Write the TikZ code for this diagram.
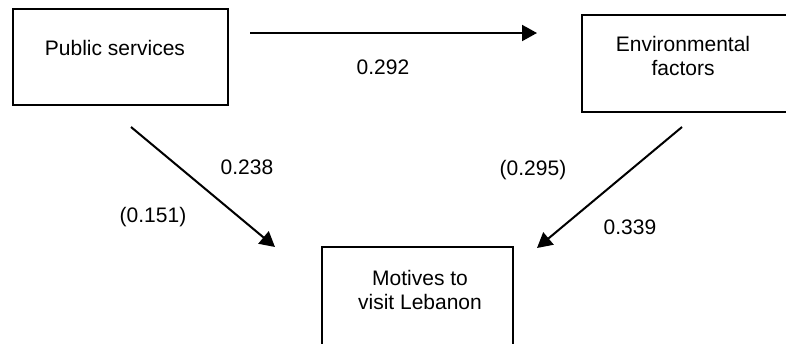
\documentclass[tikz,border=0pt]{standalone}
\usepackage{fontspec}
\setmainfont{Liberation Sans}
\usetikzlibrary{arrows.meta}

\begin{document}
\begin{tikzpicture}[x=0.5pt,y=-0.5pt,
        box/.style={draw,line width=1pt,inner sep=0pt},
        txt/.style={align=center,inner sep=0pt,font=\fontsize{10.5}{12}\selectfont},
        link/.style={line width=1pt,-{Triangle[length=7.5pt,width=8pt]}}]
        \useasboundingbox (0,0) rectangle (786,343);

        \node[box,minimum width=107.5pt,minimum height=48pt] (PS) at (120,57) {};
        \node[box,minimum width=104pt,minimum height=48.5pt] (EF) at (686,63.5) {};
        \node[box,minimum width=95.5pt,minimum height=49pt] (MV) at (417.5,296) {};

        \node[txt] (PStxt) at (115,48) {Public services};
        \node[txt] (EFtxt) at (683,56) {Environmental\\factors};
        \node[txt] (MVtxt) at (420,290) {Motives to\\visit Lebanon};

        \coordinate (PSright) at (250,33);
        \coordinate (EFleft) at (537,33);
        \coordinate (PSbelow) at (131,127);
        \coordinate (EFbelow) at (682,127);
        \coordinate (MVleft) at (275,247);
        \coordinate (MVright) at (537,248);

        \draw[link] (PSright) -- (EFleft);
        \draw[link] (PSbelow) -- (MVleft);
        \draw[link] (EFbelow) -- (MVright);

        \node[txt] (PSEF) at (383,67) {0.292};
        \node[txt] (PSMVa) at (247,167) {0.238};
        \node[txt] (PSMVb) at (153,217) {(0.151)};
        \node[txt] (EFMVb) at (533,170) {(0.295)};
        \node[txt] (EFMVa) at (630,227) {0.339};
      \end{tikzpicture}
\end{document}
